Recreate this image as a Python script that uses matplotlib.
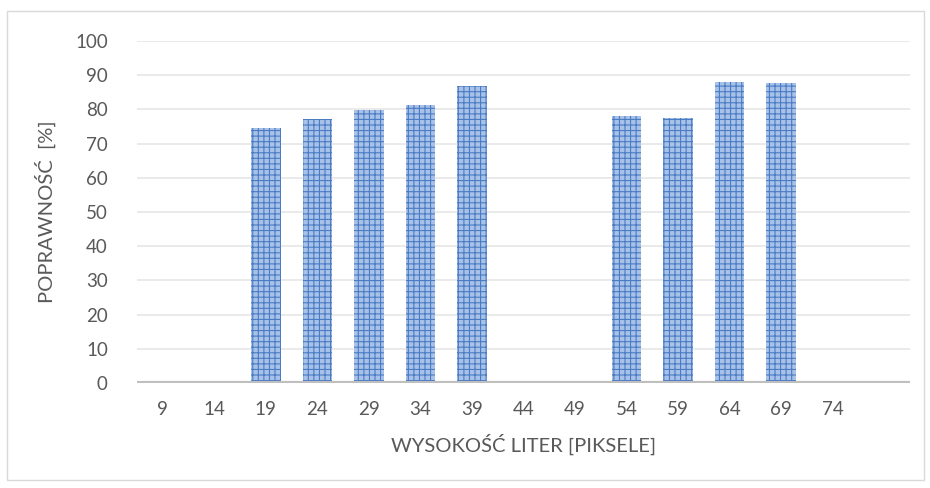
import matplotlib.pyplot as plt
from matplotlib.patches import Rectangle

plt.rcParams['font.family'] = ['Lato', 'DejaVu Sans']
plt.rcParams['hatch.color'] = '#4a7cc4'
plt.rcParams['hatch.linewidth'] = 0.8

# wysokosc liter (piksele) -- ostatnia kategoria bez etykiety
labels = ['9', '14', '19', '24', '29', '34', '39', '44', '49', '54', '59', '64', '69', '74', '']
values = [0, 0, 74.5, 77.1, 79.8, 81.2, 86.8, 0, 0, 78.2, 77.6, 88.1, 87.8, 0, 0]

fig = plt.figure(figsize=(9.3, 4.88), dpi=100)
ax = fig.add_axes([137 / 930, 1 - 383 / 488, (910 - 137) / 930, (383 - 41) / 488])

x = list(range(len(labels)))
ax.bar(x, values, width=0.57, color='#a8c1e8', edgecolor='#4a7cc4', linewidth=0,
       hatch='+++', zorder=3)

ax.set_xlim(-0.5, len(labels) - 0.5)
ax.set_ylim(0, 100)
ax.set_yticks(range(0, 101, 10))
ax.set_xticks(x)
ax.set_xticklabels(labels)
ax.tick_params(axis='both', length=0, labelsize=13.5, colors='#595959')
ax.tick_params(axis='x', pad=13)
ax.tick_params(axis='y', pad=21)
ax.grid(axis='y', color='#e6e6e6', linewidth=1.2, zorder=0)
ax.axhline(0, color='#bfbfbf', linewidth=3, zorder=4)
for s in ax.spines.values():
    s.set_visible(False)

ax.set_xlabel('WYSOKOŚĆ LITER [PIKSELE]', fontsize=14.5, color='#595959', labelpad=11)
ax.set_ylabel('POPRAWNOŚĆ  [%]', fontsize=14.5, color='#595959', labelpad=14)

fig.patches.append(Rectangle((7 / 930, 1 - 480 / 488), 917 / 930, 469 / 488,
                             transform=fig.transFigure, fill=False,
                             edgecolor='#d9d9d9', linewidth=1))

fig.savefig('out.png', dpi=100)
